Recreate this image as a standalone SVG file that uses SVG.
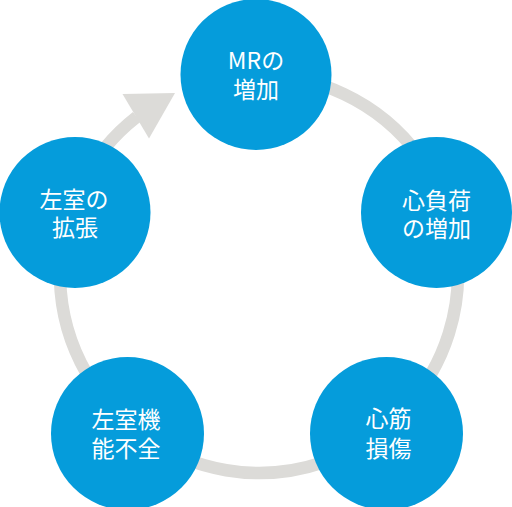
<svg xmlns="http://www.w3.org/2000/svg" width="512" height="507" viewBox="0 0 512 507">
<style>
.node{fill:#059cdb}
.lbl{fill:#ffffff;font-family:"Noto Sans CJK JP","Noto Sans",sans-serif;font-size:23px;text-anchor:middle}
.ring{fill:none;stroke:#dcdbd8;stroke-width:12.5}
.head{fill:#dcdbd8}
</style>
<rect width="512" height="507" fill="#ffffff"/>
<g id="connectors">
<path class="ring" d="M 259 75 A 199 199 0 1 1 136.8 116.9"/>
<polygon class="head" points="122.5,94 175,93 149,138.5"/>
</g>
<g id="node-mr">
<circle class="node" cx="256" cy="74.5" r="75.5"/>
<text class="lbl"><tspan x="256" y="68.5">MRの</tspan><tspan x="256" y="97.5">増加</tspan></text>
</g>
<g id="node-load">
<circle class="node" cx="436.5" cy="212.5" r="75.5"/>
<text class="lbl"><tspan x="436.5" y="208.5">心負荷</tspan><tspan x="436.5" y="237">の増加</tspan></text>
</g>
<g id="node-myocard">
<circle class="node" cx="386.5" cy="433.5" r="76.5"/>
<text class="lbl"><tspan x="388.5" y="426.5">心筋</tspan><tspan x="388.5" y="456.5">損傷</tspan></text>
</g>
<g id="node-lvdys">
<circle class="node" cx="127.5" cy="433.5" r="76.5"/>
<text class="lbl"><tspan x="126" y="428">左室機</tspan><tspan x="126" y="456.5">能不全</tspan></text>
</g>
<g id="node-lvdil">
<circle class="node" cx="75" cy="212.5" r="75.5"/>
<text class="lbl"><tspan x="74" y="207.5">左室の</tspan><tspan x="75" y="236">拡張</tspan></text>
</g>
</svg>
